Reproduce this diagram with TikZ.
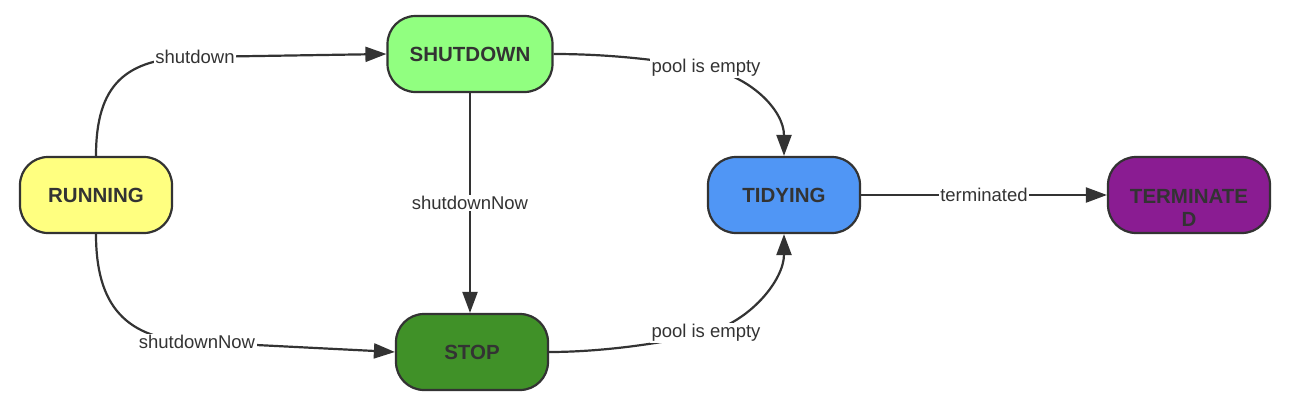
\documentclass[tikz,border=0pt]{standalone}
\usepackage{fontspec}
\setmainfont{Liberation Sans}
\usetikzlibrary{arrows.meta}
\definecolor{ink}{HTML}{333333}
\definecolor{cRun}{RGB}{255,255,128}
\definecolor{cShut}{RGB}{145,255,128}
\definecolor{cStop}{RGB}{64,145,40}
\definecolor{cTidy}{RGB}{80,150,245}
\definecolor{cTerm}{RGB}{138,28,146}
\tikzset{
  state/.style={draw=ink, line width=2.2pt, rounded corners=28pt,
    minimum width=152pt, minimum height=76pt, inner sep=2pt,
    font=\fontsize{20.5}{23}\selectfont\bfseries, text=ink, align=center},
  lbl/.style={fill=white, inner sep=1.5pt, text=ink,
    font=\fontsize{18.5}{20}\selectfont},
  conn/.style={draw=ink, line width=2.2pt,
    -{Triangle[length=21pt,width=15pt]}}
}
\begin{document}
\begin{tikzpicture}[x=1pt,y=-1pt]
\useasboundingbox[fill=white] (0,0) rectangle (1296,415);
\node[state, fill=cRun] (run) at (96,195) {RUNNING};
\node[state, fill=cShut, minimum width=165pt] (sd) at (470,54) {SHUTDOWN};
\node[state, fill=cStop] (stop) at (472,352) {STOP};
\node[state, fill=cTidy] (tid) at (784,195) {TIDYING};
\node[state, fill=cTerm, minimum width=162pt] (term) at (1189,195) {\strut\\TERMINATE\\D};

\draw[conn] (run.north) .. controls (96,85) and (125,58) .. (195,57)
  node[lbl] {shutdown} -- (sd.west);
\draw[conn] (run.south) .. controls (96,305) and (125,340) .. (197,342)
  node[lbl] {shutdownNow} -- (stop.west);
\draw[conn] (sd.south) -- node[lbl, pos=0.5] {shutdownNow} (sd.south |- stop.north);
\draw[conn] (sd.east) .. controls (610,54) and (660,60) .. (706,68)
  node[lbl] {pool is empty} .. controls (750,76) and (784,110) .. (tid.north);
\draw[conn] (stop.east) .. controls (600,352) and (660,344) .. (706,333)
  node[lbl] {pool is empty} .. controls (750,322) and (784,280) .. (tid.south);
\draw[conn] (tid.east) -- node[lbl, pos=0.5] {terminated} (term.west);
\end{tikzpicture}
\end{document}
